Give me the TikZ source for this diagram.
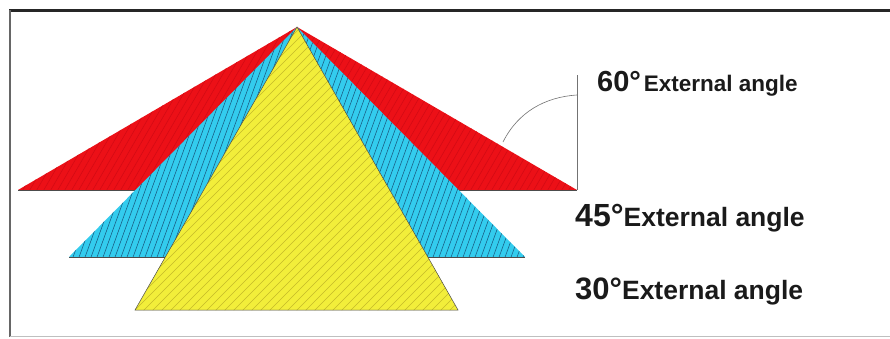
\documentclass[tikz,border=0pt]{standalone}
\usepackage{fontspec}
\setmainfont{Liberation Sans}
\definecolor{pred}{HTML}{EC1017}
\definecolor{pcyan}{HTML}{33CCEE}
\definecolor{pyellow}{HTML}{F2EE3A}
\definecolor{hred}{HTML}{D20A14}
\definecolor{hcyan}{HTML}{1A5A80}
\definecolor{hyellow}{HTML}{C4BA28}
\definecolor{txt}{HTML}{1A1A1A}
\tikzset{
  tri/.style={draw=black!70, line width=0.5pt, line join=miter},
  lbl/.style={anchor=base west, inner sep=0pt, text=txt, font=\bfseries},
  guide/.style={draw=black!55, line width=0.8pt},
  hatchline/.style={line width=0.55pt}
}
\begin{document}
\begin{tikzpicture}[x=1pt,y=-1pt]
\useasboundingbox (0,0) rectangle (890,338);
\fill[white] (0,0) rectangle (890,338);
% frame
\draw[black!85, line width=2.2pt] (9,10.5) -- (890,10.5);
\draw[black!60, line width=2pt] (10,10) -- (10,337);
\draw[black!25, line width=1pt] (10,336.5) -- (890,336.5);
% apex and base corners
\coordinate (apex) at (297,27);
\coordinate (rL) at (18,190);
\coordinate (rR) at (577,190);
\coordinate (cL) at (69,257);
\coordinate (cR) at (525,257);
\coordinate (yL) at (135,310);
\coordinate (yR) at (458,310);
% red triangle
\fill[pred] (apex) -- (rL) -- (rR) -- cycle;
\begin{scope}
  \clip (apex) -- (rL) -- (rR) -- cycle;
  \foreach \x in {-200,-193,...,600} \draw[hatchline, hred] (\x,200) -- ++(110,-190);
\end{scope}
\draw[tri] (rL) -- (rR);
% cyan triangle
\fill[pcyan] (apex) -- (cL) -- (cR) -- cycle;
\begin{scope}
  \clip (apex) -- (cL) -- (cR) -- cycle;
  \foreach \x in {0,6,...,540} \draw[hatchline, hcyan] (\x,260) -- ++(85,-235);
\end{scope}
\draw[tri] (cL) -- (cR);
% yellow triangle
\fill[pyellow] (apex) -- (yL) -- (yR) -- cycle;
\begin{scope}
  \clip (apex) -- (yL) -- (yR) -- cycle;
  \foreach \x in {-200,-191,...,480} \draw[hatchline, hyellow] (\x,312) -- ++(290,-290);
\end{scope}
\draw[tri] (apex) -- (yL) -- (yR) -- cycle;
% angle guide
\coordinate (vtop) at (577,75);
\coordinate (arcA) at (503,142);
\coordinate (arcB) at (577,95);
\draw[guide] (vtop) -- (rR);
\draw[guide, line width=0.6pt] (arcA) .. controls (518,112) and (545,97) .. (arcB);
% labels
\node[lbl] (l60) at (597,91) {{\fontsize{29}{29}\selectfont 60°} {\fontsize{22.5}{22.5}\selectfont External angle}};
\node[lbl] (l45) at (575,226) {{\fontsize{32}{32}\selectfont 45°}{\fontsize{26.5}{26.5}\selectfont External angle}};
\node[lbl] (l30) at (575,299) {{\fontsize{31}{31}\selectfont 30°}{\fontsize{26.5}{26.5}\selectfont External angle}};
\end{tikzpicture}
\end{document}
